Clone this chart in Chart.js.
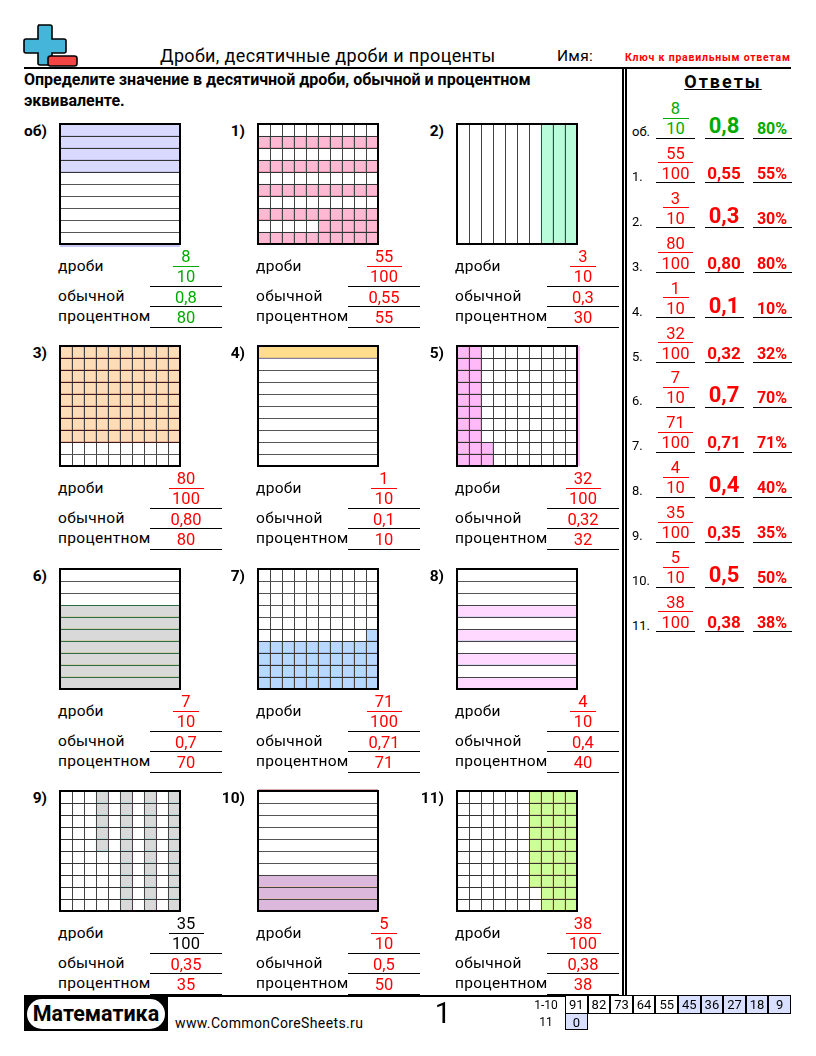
<!DOCTYPE html>
<html lang="ru">
<head>
<meta charset="utf-8">
<title>Дроби, десятичные дроби и проценты</title>
<script src="https://cdn.jsdelivr.net/npm/chart.js@4"></script>
<style>
  html, body { margin: 0; background: #fff; }
  #page { position: relative; width: 816px; height: 1056px; overflow: hidden; font-family: Roboto, sans-serif; color: #000; }
  #page div, #page canvas, #page svg { position: absolute; }
  .t { white-space: nowrap; line-height: 1; }
</style>
</head>
<body>
<div id="page"></div>
<script>
// what each problem shows
const problemLabels = ["об)", "1)", "2)", "3)", "4)", "5)", "6)", "7)", "8)", "9)", "10)", "11)"];
const answerLabels = ["об.", "1.", "2.", "3.", "4.", "5.", "6.", "7.", "8.", "9.", "10.", "11."];
const numerators = [8, 55, 3, 80, 1, 32, 7, 71, 4, 35, 5, 38];
const denominators = [10, 100, 10, 100, 10, 100, 10, 100, 10, 100, 10, 100];
const decimals = ["0,8", "0,55", "0,3", "0,80", "0,1", "0,32", "0,7", "0,71", "0,4", "0,35", "0,5", "0,38"];
const percents = [80, 55, 30, 80, 10, 32, 70, 71, 40, 35, 50, 38];
const keyRow1 = [91, 82, 73, 64, 55, 45, 36, 27, 18, 9];
const keyRow2 = [0];

// shaded cells, one string per row, 1 = shaded
const gridEx = ["1", "1", "1", "1", "0", "0", "0", "0", "0", "0"];
const grid1 = ["0000000000", "1111111111", "0000000000", "1111111111", "0000000000", "1111111111", "0000000000", "1111111111", "0000011111", "1111111111"];
const grid2 = ["0000000111"];
const grid3 = ["1111111111", "1111111111", "1111111111", "1111111111", "1111111111", "1111111111", "1111111111", "1111111111", "0000000000", "0000000000"];
const grid4 = ["1", "0", "0", "0", "0", "0", "0", "0", "0", "0"];
const grid5 = ["1100000000", "1100000000", "1100000000", "1100000000", "1100000000", "1100000000", "1100000000", "1100000000", "1110000000", "1110000000"];
const grid6 = ["0", "0", "0", "1", "1", "1", "1", "1", "1", "1"];
const grid7 = ["0000000000", "0000000000", "0000000000", "0000000000", "0000000000", "0000000001", "1111111111", "1111111111", "1111111111", "1111111111"];
const grid8 = ["0", "0", "0", "1", "0", "1", "0", "1", "0", "1"];
const grid9 = ["0001010101", "0001010101", "0001010101", "0001010101", "0001010101", "0000010101", "0000010101", "0000010101", "0000010101", "0000010101"];
const grid10 = ["0", "0", "0", "0", "0", "0", "0", "1", "1", "1"];
const grid11 = ["0000001111", "0000001111", "0000001111", "0000001111", "0000001111", "0000001111", "0000001111", "0000001111", "0000000111", "0000000111"];
const grids = [gridEx, grid1, grid2, grid3, grid4, grid5, grid6, grid7, grid8, grid9, grid10, grid11];

// colours of each grid
const cellFills = ["#d9d9ff", "#ffb8d2", "#b9fcd9", "#ffdcb8", "#ffdd8c", "#ffb8f8", "#d9d9d9", "#b8d8ff", "#ffd9ff", "#d9d9d9", "#dcb8dc", "#ccff99"];
const cellEdges = ["#c0c0e8", "#e090a8", "#9ad8b8", "#e0a888", "#d8bc80", "#d8a0d0", "#c8c8a0", "#a0b8e0", "#d4d0f0", "#a8dcdc", "#e8c0b0", "#c8d080"];
const lineTints = ["#333", "#333", "#444", "#3a1a20", "#8080a0", "#333", "#2f6b4a", "#333", "#444", "#333", "#444", "#333"];
const bleeds = [{ side: "bottom", color: "#c8c8f4" }, null, null, null, null, { side: "right", color: "#ffb8f8" }, null, null, null, null, { side: "top", color: "#d8a8a8" }, null];

const RED = "#ff0000";
const GREEN = "#00aa00";
const columnX = [60, 258, 457];
const rowY = [124, 346, 569, 791];

const page = document.getElementById("page");

function addText(text, x, y, size, opts) {
  opts = opts || {};
  const el = document.createElement("div");
  el.className = "t";
  el.textContent = text;
  el.style.left = x + "px";
  el.style.top = y + "px";
  el.style.fontSize = size + "px";
  el.style.fontWeight = opts.bold ? "700" : "400";
  el.style.color = opts.color || "#000";
  if (opts.spacing) el.style.letterSpacing = opts.spacing + "px";
  if (opts.underline) el.style.textDecoration = "underline";
  const dx = opts.align === "center" ? "-50%" : opts.align === "right" ? "-100%" : "0";
  el.style.transform = "translate(" + dx + ", -50%)";
  page.appendChild(el);
  return el;
}

function addBox(x, y, w, h, color, extra) {
  const el = document.createElement("div");
  el.style.left = x + "px";
  el.style.top = y + "px";
  el.style.width = w + "px";
  el.style.height = h + "px";
  el.style.background = color;
  if (extra) Object.assign(el.style, extra);
  page.appendChild(el);
  return el;
}

// frame around the plot, plus the thin colour edge some grids have
const framePlugin = {
  id: "frame",
  afterDraw(chart, args, opts) {
    const a = chart.chartArea;
    const c = chart.ctx;
    c.save();
    if (opts.bleed) {
      c.fillStyle = opts.bleed.color;
      if (opts.bleed.side === "bottom") c.fillRect(a.left, a.bottom + 1, a.width, 2);
      if (opts.bleed.side === "right") c.fillRect(a.right + 1, a.top, 2, a.height);
      if (opts.bleed.side === "top") c.fillRect(a.left, a.top - 2, a.width, 1);
    }
    c.strokeStyle = "#000";
    c.lineWidth = 2;
    c.strokeRect(a.left, a.top, a.width, a.height);
    c.restore();
  }
};

function rowIsShaded(rows, r) {
  return r >= 0 && r < rows.length && rows[r].indexOf("1") >= 0;
}

function drawGrid(index, x, y) {
  const rows = grids[index];
  const cols = rows[0].length;
  const canvas = document.createElement("canvas");
  canvas.width = 126;
  canvas.height = 126;
  canvas.style.left = (x - 3) + "px";
  canvas.style.top = (y - 3) + "px";
  page.appendChild(canvas);

  const labels = [];
  for (let c = 0; c < cols; c++) labels.push(String(c + 1));

  const datasets = rows.map(function (row, r) {
    const shaded = row.split("").map(function (ch) { return ch === "1"; });
    return {
      label: "ряд " + (r + 1),
      data: shaded.map(function () { return 1; }),
      backgroundColor: shaded.map(function (s) { return s ? cellFills[index] : "rgba(0,0,0,0)"; }),
      borderColor: shaded.map(function (s) { return s ? cellEdges[index] : "rgba(0,0,0,0)"; }),
      borderWidth: 1,
      borderSkipped: false,
      barPercentage: 1,
      categoryPercentage: 1,
    };
  });

  new Chart(canvas, {
    type: "bar",
    data: { labels: labels, datasets: datasets },
    plugins: [framePlugin],
    options: {
      responsive: false,
      animation: false,
      layout: { padding: 3 },
      plugins: {
        legend: { display: false },
        tooltip: { enabled: false },
        frame: { bleed: bleeds[index] },
      },
      scales: {
        x: {
          stacked: true,
          ticks: { display: false },
          border: { display: false },
          grid: { display: cols > 1, drawTicks: false, color: "#444", z: 1 },
        },
        y: {
          stacked: true,
          reverse: true,
          min: 0,
          max: rows.length,
          ticks: { display: false, stepSize: 1 },
          border: { display: false },
          grid: {
            display: rows.length > 1,
            drawTicks: false,
            z: 1,
            // lines touching a shaded row come out darker in the reference
            color: function (ctx) {
              const v = ctx.tick.value;
              return rowIsShaded(rows, v) || rowIsShaded(rows, v - 1) ? lineTints[index] : "#555";
            },
          },
        },
      },
    },
  });
}

function drawFraction(cx, y, num, den, color, numColor) {
  addText(String(num), cx, y - 9, 16.5, { align: "center", color: numColor || color });
  addBox(cx - (den === 100 ? 17.5 : 13), y - 0.5, den === 100 ? 35 : 26, 1, color);
  addText(String(den), cx, y + 11, 16.5, { align: "center", color: numColor || color });
}

// problems
grids.forEach(function (rows, i) {
  const x = columnX[i % 3];
  const y = rowY[Math.floor(i / 3)];
  const color = i === 0 ? GREEN : RED;
  const cx = x + 126;
  const lineX = x + 90;

  addText(problemLabels[i], x - 13, y + 8, 15.5, { bold: true, align: "right" });
  drawGrid(i, x, y);

  addText("дроби", x - 2, y + 143, 15.5, { spacing: 0.3 });
  addText("обычной", x - 2, y + 173, 15.5, { spacing: 0.3 });
  addText("процентном", x - 2, y + 193, 15.5, { spacing: 0.3 });

  // problem 9 has its fraction in black
  drawFraction(cx, y + 142, numerators[i], denominators[i], i === 9 ? "#000" : color);
  addText(decimals[i], cx, y + 174, 16.5, { align: "center", color: color });
  addText(String(percents[i]), cx, y + 194, 16.5, { align: "center", color: color });

  [162, 182, 203].forEach(function (dy) {
    addBox(lineX, y + dy - 0.5, 72, 1, "#000");
  });
});

// answers column
answerLabels.forEach(function (label, i) {
  const under = 138 + i * 44.9;
  const color = i === 0 ? GREEN : RED;
  const oneDigit = denominators[i] === 10;
  addText(label, 632, under - 7, 13);
  drawFraction(675.5, under - 20, numerators[i], denominators[i], color);
  addText(decimals[i], 724, under - (oneDigit ? 12 : 10), oneDigit ? 22 : 17, { bold: true, align: "center", color: color });
  addText(percents[i] + "%", 772, under - 9, 16, { bold: true, align: "center", color: color });
  [656, 705, 753].forEach(function (lx) {
    addBox(lx, under - 0.5, 39, 1, "#000");
  });
});

// header
const logo = document.createElementNS("http://www.w3.org/2000/svg", "svg");
logo.setAttribute("width", "60");
logo.setAttribute("height", "50");
logo.style.left = "22px";
logo.style.top = "22px";
logo.innerHTML =
  '<path d="M16 3 h12 a2 2 0 0 1 2 2 v12 h12 a2 2 0 0 1 2 2 v10 a2 2 0 0 1 -2 2 h-12 v10 a2 2 0 0 1 -2 2 h-10 a2 2 0 0 1 -2 -2 v-10 h-12 a2 2 0 0 1 -2 -2 v-10 a2 2 0 0 1 2 -2 h12 v-12 a2 2 0 0 1 2 -2 z" fill="#45b5da" stroke="#000" stroke-width="1.6"/>' +
  '<rect x="26" y="34" width="29" height="10" rx="2.5" fill="#f44545" stroke="#000" stroke-width="1.6"/>';
page.appendChild(logo);

addText("Дроби, десятичные дроби и проценты", 160, 56, 18, { spacing: 0.35 });
addText("Имя:", 557, 57, 15.5, { spacing: 0.3 });
addText("Ключ к правильным ответам", 625, 58, 10.5, { bold: true, color: RED, spacing: 0.78 });
addBox(24, 67, 767, 2, "#000");
addText("Определите значение в десятичной дроби, обычной и процентном", 24, 80, 16, { bold: true });
addText("эквиваленте.", 24, 101, 16, { bold: true });
addText("Ответы", 723, 82, 18, { bold: true, align: "center", spacing: 2, underline: true });

// dividers
addBox(622, 67, 2, 929, "#000");
addBox(625, 67, 2, 929, "#000");
addBox(24, 995, 767, 1.5, "#000");

// footer
addBox(24, 995, 144, 36, "#000");
addBox(27, 999, 138, 30, "#fff", { borderRadius: "15px" });
addText("Математика", 96, 1014, 21.5, { bold: true, align: "center" });
addText("www.CommonCoreSheets.ru", 175, 1023, 14, { spacing: 0.37 });
addText("1", 443, 1013, 29, { align: "center" });

addText("1-10", 546, 1005, 12, { align: "center" });
addText("11", 546, 1022, 12, { align: "center" });

function drawKeyCell(value, col, y, h, shaded) {
  const x = 565 + col * 22.6;
  addBox(x, y, 22.6, h, shaded ? "#d9e0ff" : "#fff", { boxSizing: "border-box", border: "1px solid #000" });
  addText(String(value), x + 11.3, y + h / 2, 13, { align: "center" });
}
keyRow1.forEach(function (v, i) { drawKeyCell(v, i, 995, 18.5, i >= 5); });
keyRow2.forEach(function (v, i) { drawKeyCell(v, i, 1013, 17, true); });
</script>
</body>
</html>
